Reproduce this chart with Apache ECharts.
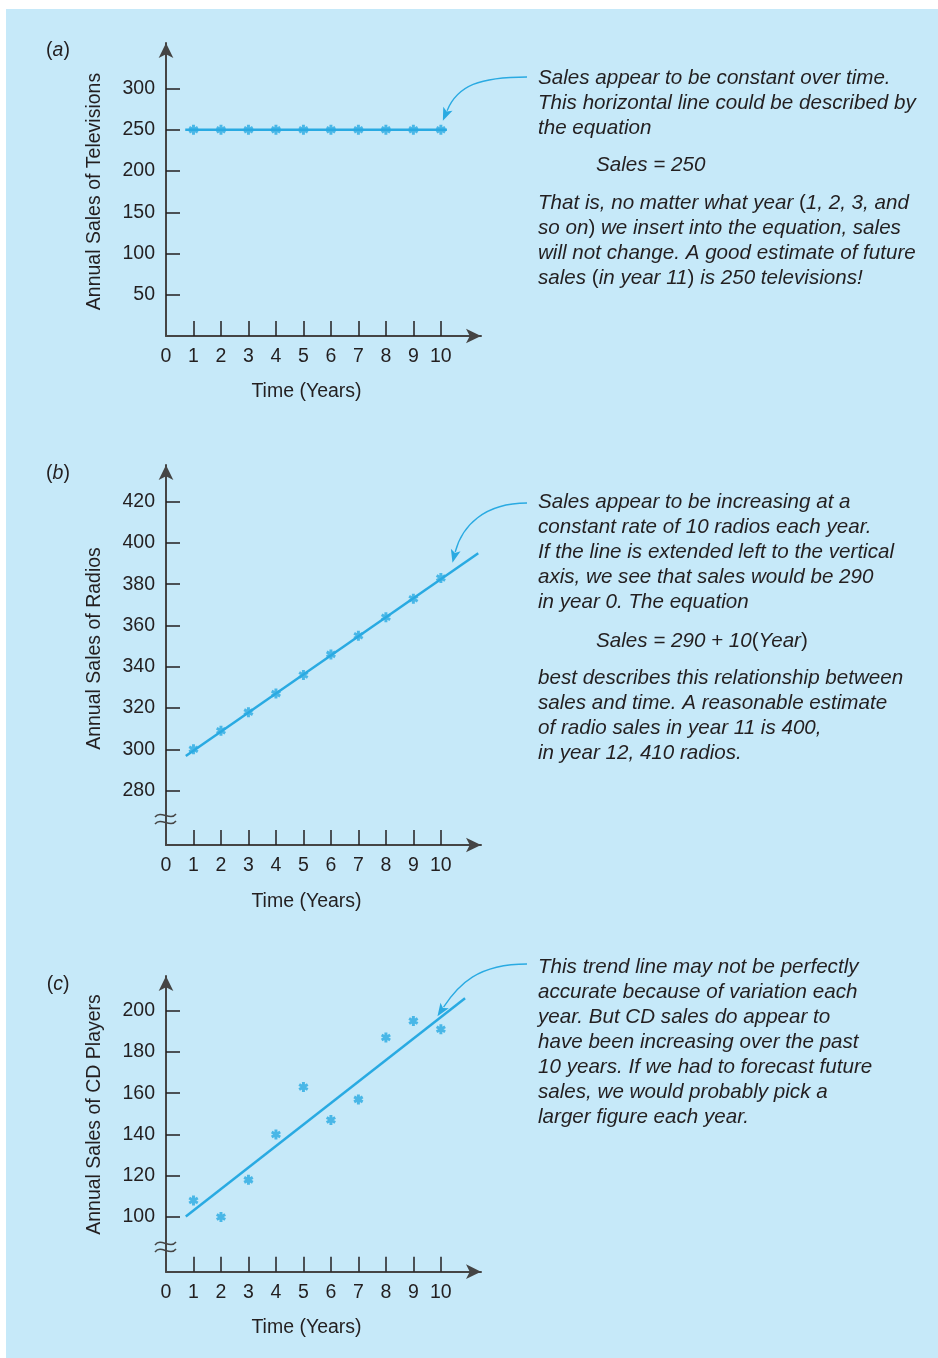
<!DOCTYPE html>
<html><head><meta charset="utf-8">
<script src="https://cdn.jsdelivr.net/npm/echarts@6/dist/echarts.min.js"></script>
<style>html,body{margin:0;padding:0;background:#fff}#c{width:938px;height:1358px}</style>
</head><body><div id="c"></div>
<script>
// ---------- data ----------
const years = [1,2,3,4,5,6,7,8,9,10];
const xTickLabels = [0,1,2,3,4,5,6,7,8,9,10];
const tvSales = [250,250,250,250,250,250,250,250,250,250];
const radioSales = [300,309,318,327,336,346,355,364,373,383];
const cdSales = [108,100,118,140,163,147,157,187,195,191];
const tvTrend = [[0.7,250],[10.22,250]];
const radioTrend = [[0.72,296.7],[11.36,395]];
const cdTrend = [[0.72,100.3],[10.88,206]];
const tvYTicks = [50,100,150,200,250,300];
const radioYTicks = [280,300,320,340,360,380,400,420];
const cdYTicks = [100,120,140,160,180,200];
const yNames = ['Annual Sales of Televisions','Annual Sales of Radios','Annual Sales of CD Players'];
const panelLetters = ['a','b','c'];
const xName = 'Time (Years)';
const notesA = [
  'Sales appear to be constant over time.',
  'This horizontal line could be described by',
  'the equation',
  'That is, no matter what year {u|(}1, 2, 3, and',
  'so on{u|)} we insert into the equation, sales',
  'will not change. A good estimate of future',
  'sales {u|(}in year 11{u|)} is 250 televisions!'
];
const eqA = 'Sales = 250';
const notesB1 = [
  'Sales appear to be increasing at a',
  'constant rate of 10 radios each year.',
  'If the line is extended left to the vertical',
  'axis, we see that sales would be 290',
  'in year 0. The equation'
];
const eqB = 'Sales = 290 + 10{u|(}Year{u|)}';
const notesB2 = [
  'best describes this relationship between',
  'sales and time. A reasonable estimate',
  'of radio sales in year 11 is 400,',
  'in year 12, 410 radios.'
];
const notesC = [
  'This trend line may not be perfectly',
  'accurate because of variation each',
  'year. But CD sales do appear to',
  'have been increasing over the past',
  '10 years. If we had to forecast future',
  'sales, we would probably pick a',
  'larger figure each year.'
];

// ---------- style ----------
const BLUE = '#29aae2';
const BG = '#c6e9f9';
const AX = '#454545';
const TXT = '#231f20';
const FONT = '"Liberation Sans", Arial, Helvetica, sans-serif';
const NOTE_FS = 20.6;
const STAR = 'path://M-1.5,-5L1.5,-5L1.5,5L-1.5,5Z M3.58,-3.8L5.08,-1.2L-3.58,3.8L-5.08,1.2Z M5.08,1.2L3.58,3.8L-5.08,-1.2L-3.58,-3.8Z';

const grids = [
  {left:166, top:43, width:315, height:293},
  {left:166, top:465, width:315, height:380},
  {left:166, top:976, width:315, height:295.7}
];
const X_MAX = 11.46;
const yRanges = [[0,355.2],[253.6,437.8],[73.5,216.8]];
const yTicks = [tvYTicks, radioYTicks, cdYTicks];
const pts = [tvSales, radioSales, cdSales];
const trends = [tvTrend, radioTrend, cdTrend];

const chart = echarts.init(document.getElementById('c'), null, {renderer:'canvas'});

const xAxes = grids.map((g,i)=>({
  type:'value', gridIndex:i, min:0, max:X_MAX,
  axisLine:{show:true, onZero:false, symbol:['none','arrow'], symbolSize:[11,15], lineStyle:{color:AX,width:2}},
  axisTick:{show:true, inside:true, length:15, customValues:years, lineStyle:{color:TXT,width:1.5}},
  axisLabel:{show:true, customValues:xTickLabels, margin:11, fontSize:19.5, color:TXT, fontFamily:FONT},
  splitLine:{show:false}
}));
const yAxes = grids.map((g,i)=>({
  type:'value', gridIndex:i, min:yRanges[i][0], max:yRanges[i][1],
  axisLine:{show:true, onZero:false, symbol:['none','arrow'], symbolSize:[11,15], lineStyle:{color:AX,width:2}},
  axisTick:{show:true, inside:true, length:14, customValues:yTicks[i], lineStyle:{color:TXT,width:1.5}},
  axisLabel:{show:true, customValues:yTicks[i], margin:11, fontSize:19.5, color:TXT, fontFamily:FONT},
  splitLine:{show:false}
}));
const series = [];
for (let i=0;i<3;i++){
  series.push({type:'line', xAxisIndex:i, yAxisIndex:i, data:trends[i], showSymbol:false, silent:true,
    lineStyle:{color:BLUE,width:2.5}, z:2});
  series.push({type:'scatter', xAxisIndex:i, yAxisIndex:i, data:years.map((y,k)=>[y,pts[i][k]]),
    symbol:STAR, symbolSize:10, itemStyle:{color:BLUE}, silent:true, z:3});
}

chart.setOption({
  animation:false,
  backgroundColor:'#ffffff',
  grid:grids,
  xAxis:xAxes,
  yAxis:yAxes,
  series:series
});

// ---------- decorations ----------
const g = [];
g.push({type:'rect', shape:{x:6,y:9,width:932,height:1349}, style:{fill:BG}, z:-100, silent:true});

const richU = {u:{fontStyle:'normal', fontSize:NOTE_FS, fontFamily:FONT, fill:TXT}};
function note(x,y,text){
  g.push({type:'text', x:x, y:y, silent:true, z:10,
    style:{text:text, fill:TXT, fontSize:NOTE_FS, fontStyle:'italic', fontFamily:FONT, align:'left', verticalAlign:'middle', rich:richU}});
}
function plain(x,y,text,rot){
  g.push({type:'text', x:x, y:y, rotation:rot||0, silent:true, z:10,
    style:{text:text, fill:TXT, fontSize:19.5, fontFamily:FONT, align:'center', verticalAlign:'middle'}});
}
// notes
const LH = 25;
notesA.slice(0,3).forEach((t,k)=>note(538, 78+k*LH, t));
note(596, 165, eqA);
notesA.slice(3).forEach((t,k)=>note(538, 203+k*LH, t));
notesB1.forEach((t,k)=>note(538, 502+k*LH, t));
note(596, 641, eqB);
notesB2.forEach((t,k)=>note(538, 678+k*LH, t));
notesC.forEach((t,k)=>note(538, 967+k*LH, t));

// axis names and panel labels
const yNameCenters = [191.5, 648.5, 1114.5];
const xNameY = [392, 902, 1328];
const labelY = [51, 474, 985];
for (let i=0;i<3;i++){
  plain(95, yNameCenters[i], yNames[i], Math.PI/2);
  plain(306.5, xNameY[i], xName, 0);
  g.push({type:'text', x:58, y:labelY[i], silent:true, z:10,
    style:{text:'{u|(}{i|'+panelLetters[i]+'}{u|)}', align:'center', verticalAlign:'middle', fill:TXT,
      fontSize:19.5, fontFamily:FONT,
      rich:{u:{fontSize:19.5,fontFamily:FONT,fill:TXT},i:{fontSize:19.5,fontFamily:FONT,fontStyle:'italic',fill:TXT}}}});
}

// axis break marks (panels b, c)
[[1,266.2],[2,85.5]].forEach(([gi,val])=>{
  const p = chart.convertToPixel({gridIndex:gi},[0,val]);
  [-3.5,3.5].forEach(dy=>{
    const y = p[1]+dy;
    g.push({type:'bezierCurve', silent:true, z:10,
      shape:{x1:p[0]-11,y1:y+1.5,cpx1:p[0]-5,cpy1:y-6,cpx2:p[0]+4,cpy2:y+6,x2:p[0]+10,y2:y-1.5},
      style:{stroke:AX,lineWidth:1.5,fill:null}});
  });
});

// annotation arrows
const arrows = [
  {gi:0, val:tvSales[9], start:[527,77], off:[2,-9], dir:[-0.385,0.923]},
  {gi:1, val:radioSales[9], start:[527,503], off:[11.6,-15.4], dir:[-0.25,0.97]},
  {gi:2, val:cdSales[9], start:[527,964], off:[-3.4,-13], dir:[-0.55,0.83]}
];
arrows.forEach(a=>{
  const p = chart.convertToPixel({gridIndex:a.gi},[10,a.val]);
  const tip = [p[0]+a.off[0], p[1]+a.off[1]];
  const n = Math.hypot(a.dir[0],a.dir[1]);
  const d = [a.dir[0]/n, a.dir[1]/n];
  const L = 13, W = 5;
  const base = [tip[0]-d[0]*L, tip[1]-d[1]*L];
  const perp = [d[1], -d[0]];
  const S = a.start;
  g.push({type:'bezierCurve', silent:true, z:10,
    shape:{x1:S[0],y1:S[1], cpx1:S[0]-0.6*(S[0]-base[0]), cpy1:S[1], cpx2:base[0]-d[0]*25, cpy2:base[1]-d[1]*25, x2:base[0]+d[0]*2, y2:base[1]+d[1]*2},
    style:{stroke:BLUE, lineWidth:1.3, fill:null}});
  g.push({type:'polygon', silent:true, z:10,
    shape:{points:[tip,[base[0]+perp[0]*W, base[1]+perp[1]*W],[base[0]+d[0]*3, base[1]+d[1]*3],[base[0]-perp[0]*W, base[1]-perp[1]*W]]},
    style:{fill:BLUE}});
});

chart.setOption({graphic:{elements:g}});
</script>
</body></html>
